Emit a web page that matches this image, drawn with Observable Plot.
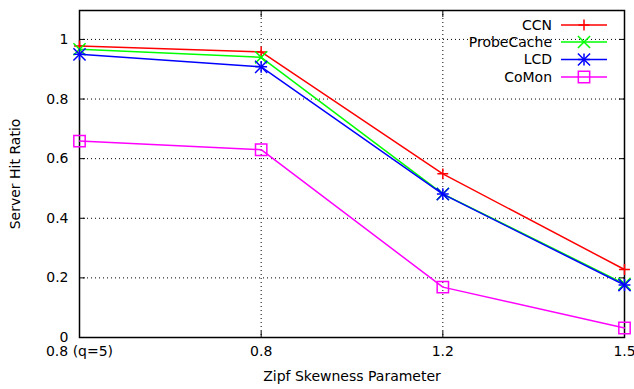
<!DOCTYPE html>
<html><head><meta charset="utf-8">
<script src="https://cdn.jsdelivr.net/npm/d3@7"></script>
<script src="https://cdn.jsdelivr.net/npm/@observablehq/plot@0.6"></script>
<style>
body{margin:0;background:#fff;}
#wrap{position:relative;width:634px;height:389px;font-family:"DejaVu Sans",sans-serif;}
#wrap svg{overflow:visible;}
#legend{position:absolute;left:0;top:0;pointer-events:none;}
</style></head><body><div id="wrap"></div>
<script>
const categories = ["0.8 (q=5)", "0.8", "1.2", "1.5"];
const seriesNames = ["CCN", "ProbeCache", "LCD", "CoMon"];
const ccn = [0.978, 0.958, 0.549, 0.228];
const probeCache = [0.967, 0.940, 0.482, 0.180];
const lcd = [0.950, 0.908, 0.481, 0.176];
const coMon = [0.659, 0.630, 0.169, 0.032];
const yTicks = [0, 0.2, 0.4, 0.6, 0.8, 1];
const xLabel = "Zipf Skewness Parameter";
const yLabel = "Server Hit Ratio";

const colors = ["#ff0000", "#00ff00", "#0000ff", "#ff00ff"];
// each series' marker drawn as one or more Plot symbols with a radius
const markerDefs = [
  [["plus", 3.6]],
  [["times", 5.6]],
  [["plus", 3.9], ["times", 5.6]],
  [["square", 6.4]]
];
const seriesValues = [ccn, probeCache, lcd, coMon];
const xIdx = categories.map((_, i) => i);

const rows = [];
seriesNames.forEach((s, si) => {
  seriesValues[si].forEach((v, i) => rows.push({series: s, si, x: i, y: v}));
});

const W = 634, H = 389;
const marks = [
  Plot.gridY(yTicks.slice(1), {stroke: "#000", strokeOpacity: 1, strokeWidth: 1, strokeDasharray: "1,3"}),
  Plot.gridX(xIdx.slice(1, -1), {stroke: "#000", strokeOpacity: 1, strokeWidth: 1, strokeDasharray: "1,3"}),
  // inward tick marks on all four sides
  Plot.axisY(yTicks, {anchor: "left", tickSize: -6, text: null, label: null, strokeWidth: 1}),
  Plot.axisY(yTicks, {anchor: "right", tickSize: -6, text: null, label: null, strokeWidth: 1}),
  Plot.axisX(xIdx, {anchor: "bottom", tickSize: -6, text: null, label: null, strokeWidth: 1}),
  Plot.axisX(xIdx, {anchor: "top", tickSize: -6, text: null, label: null, strokeWidth: 1}),
  // tick labels
  Plot.axisY(yTicks, {anchor: "left", tickSize: 0, tickPadding: 11, tickFormat: d => d3.format("")(+d.toFixed(1)), fontSize: 14, label: null}),
  Plot.axisX(xIdx, {anchor: "bottom", tickSize: 0, tickPadding: 9, tickFormat: i => categories[i], fontSize: 14, label: null}),
  Plot.frame({stroke: "#000", strokeWidth: 1.5}),
  Plot.text([yLabel], {frameAnchor: "left", rotate: -90, dx: -64, textAnchor: "middle", fontSize: 14, fill: "#000"}),
  Plot.text([xLabel], {frameAnchor: "bottom", dy: 43, textAnchor: "middle", fontSize: 14, fill: "#000"})
];
seriesNames.forEach((s, si) => {
  const d = rows.filter(r => r.si === si);
  marks.push(Plot.line(d, {x: "x", y: "y", stroke: colors[si], strokeWidth: 1.5}));
  markerDefs[si].forEach(([sym, r]) => {
    marks.push(Plot.dot(d, {x: "x", y: "y", symbol: () => sym, r, stroke: colors[si], fill: "none", strokeWidth: 1.5}));
  });
});

const chart = Plot.plot({
  width: W, height: H,
  marginLeft: 79, marginRight: 10, marginTop: 10, marginBottom: 52,
  style: {fontFamily: "DejaVu Sans, sans-serif", fontSize: "14px", color: "#000", background: "#fff", overflow: "visible"},
  x: {type: "linear", domain: [0, categories.length - 1], axis: null},
  y: {domain: [0, 1.097], axis: null},
  symbol: {type: "identity"},
  marks
});
document.getElementById("wrap").appendChild(chart);

// legend overlay, gnuplot style (inside, top right)
const leg = d3.select("#wrap").append("svg").attr("id", "legend").attr("width", W).attr("height", H);
const symMap = {plus: d3.symbolPlus, times: d3.symbolTimes, square: d3.symbolSquare};
const legRowY = [25, 42, 59.5, 77];
seriesNames.forEach((s, si) => {
  const g = leg.append("g").attr("transform", `translate(0,${legRowY[si]})`);
  g.append("text").attr("x", 552).attr("y", 0).attr("dy", "0.35em").attr("text-anchor", "end")
    .attr("font-size", 14).attr("font-family", "DejaVu Sans, sans-serif").attr("fill", "#000").text(s);
  g.append("line").attr("x1", 561).attr("x2", 607).attr("y1", 0).attr("y2", 0).attr("stroke", colors[si]).attr("stroke-width", 1.5);
  markerDefs[si].forEach(([sym, r]) => {
    g.append("path").attr("transform", "translate(584,0)")
      .attr("d", d3.symbol(symMap[sym], Math.PI * r * r)())
      .attr("fill", "none").attr("stroke", colors[si]).attr("stroke-width", 1.5);
  });
});
</script>
</body></html>
